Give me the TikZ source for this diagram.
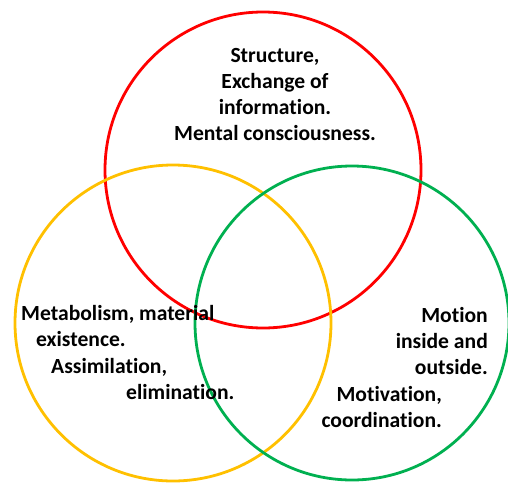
\documentclass[tikz,border=0pt]{standalone}
\usepackage{fontspec}
\setmainfont[Ligatures=CommonOff]{Carlito}
\definecolor{vred}{RGB}{255,0,0}
\definecolor{vyellow}{RGB}{255,192,0}
\definecolor{vgreen}{RGB}{0,176,80}
\begin{document}
\begin{tikzpicture}[x=1pt,y=-1pt,
  ring/.style={line width=2.8pt},
  lbl/.style={inner sep=0pt,font=\fontsize{21.6}{26}\selectfont\bfseries}]
\useasboundingbox (0,0) rectangle (508,482);
\draw[ring,vred] (263,170) circle[radius=158pt];
\draw[ring,vyellow] (173,323) circle[radius=158pt];
\draw[ring,vgreen] (352,323) circle[radius=157pt];
% top
\node[lbl,anchor=mid] (t1) at (275,60) {Structure,};
\node[lbl,anchor=mid] (t2) at (275,86) {Exchange of};
\node[lbl,anchor=mid] (t3) at (275,112) {information.};
\node[lbl,anchor=mid] (t4) at (275,138) {Mental consciousness.};
% left
\node[lbl,anchor=mid west] (l1) at (21,318) {Metabolism, material};
\node[lbl,anchor=mid west] (l2) at (36,344) {existence.};
\node[lbl,anchor=mid west] (l3) at (51,371) {Assimilation,};
\node[lbl,anchor=mid west] (l4) at (126,397) {elimination.};
% right
\node[lbl,anchor=mid east] (r1) at (488,320) {Motion};
\node[lbl,anchor=mid east] (r2) at (488,346) {inside and};
\node[lbl,anchor=mid east] (r3) at (488,372) {outside.};
\node[lbl,anchor=mid east] (r4) at (442,399) {Motivation,};
\node[lbl,anchor=mid east] (r5) at (442,425) {coordination.};
\end{tikzpicture}
\end{document}
